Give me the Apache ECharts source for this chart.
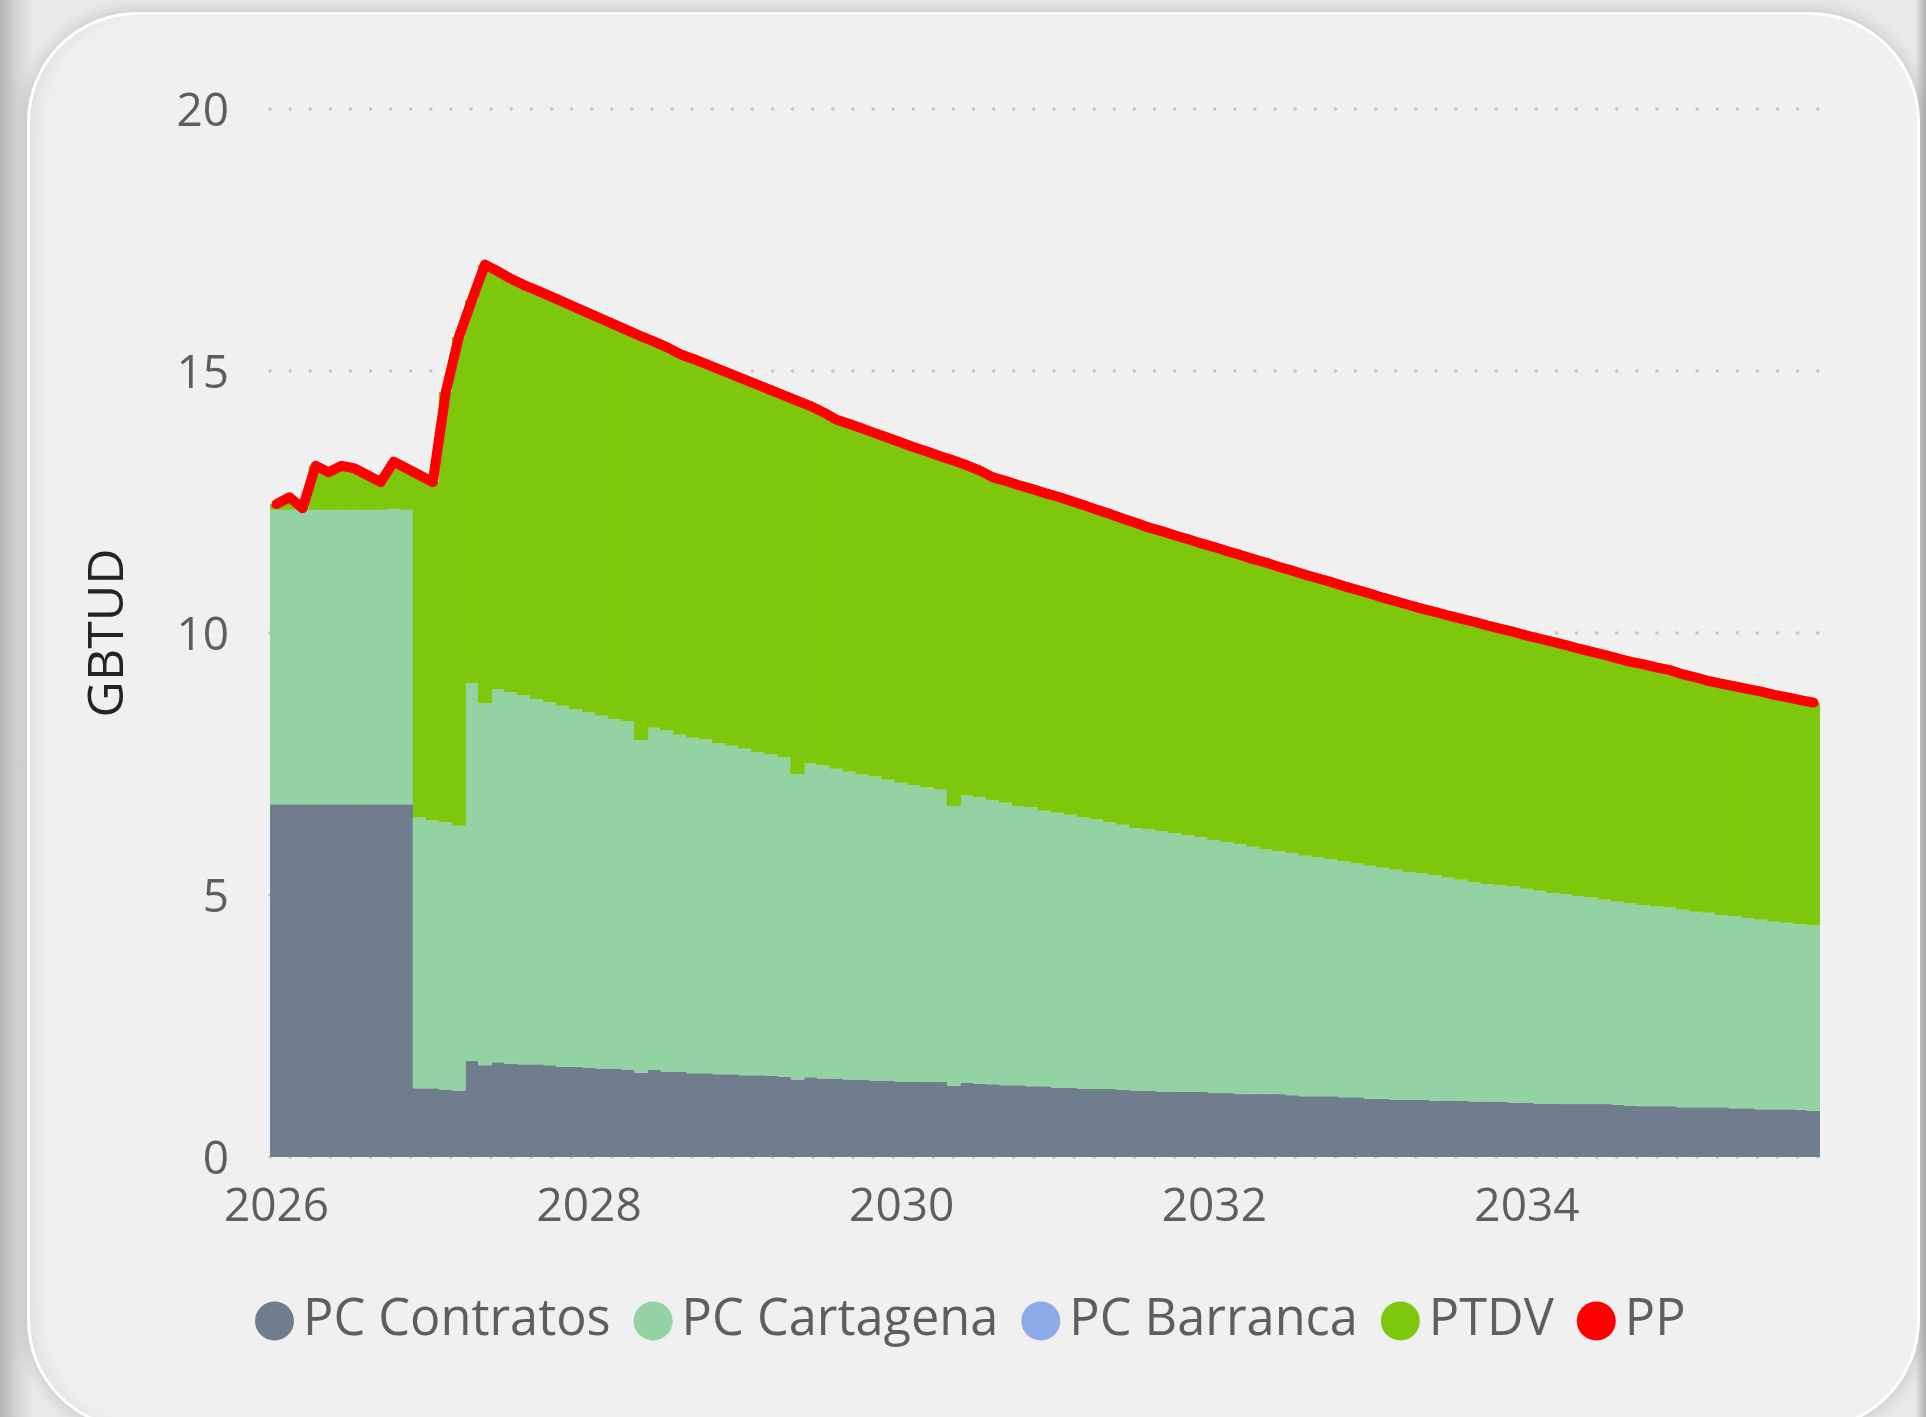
<!DOCTYPE html>
<html>
<head>
<meta charset="utf-8">
<script src="https://cdn.jsdelivr.net/npm/echarts@6/dist/echarts.min.js"></script>
<style>
    html, body { margin: 0; padding: 0; width: 1926px; height: 1417px; overflow: hidden; }
    body {
        background: linear-gradient(to right, #b4b4b4 0px, #d6d6d6 18px, #e9e9e9 34px, #e9e9e9 1915px, #b0b0b0 1926px);
        position: relative;
    }
    .card {
        position: absolute;
        left: 27px; top: 12px;
        width: 1887px; height: 1412px;
        border: 3px solid #ffffff;
        border-radius: 110px;
        background: #f0f0f0;
        box-shadow: 0 0 18px rgba(0,0,0,0.18), inset 16px 0 22px -14px rgba(0,0,0,0.10);
    }
    #container { position: absolute; left: 0; top: 0; width: 1926px; height: 1417px; }
</style>
</head>
<body>
<div class="card"></div>
<div id="container"></div>
<script type="text/javascript">
// months, Jan 2026 .. Nov 2035
var months = [
    '2026-01','2026-02','2026-03','2026-04','2026-05','2026-06','2026-07','2026-08','2026-09','2026-10','2026-11','2026-12',
    '2027-01','2027-02','2027-03','2027-04','2027-05','2027-06','2027-07','2027-08','2027-09','2027-10','2027-11','2027-12',
    '2028-01','2028-02','2028-03','2028-04','2028-05','2028-06','2028-07','2028-08','2028-09','2028-10','2028-11','2028-12',
    '2029-01','2029-02','2029-03','2029-04','2029-05','2029-06','2029-07','2029-08','2029-09','2029-10','2029-11','2029-12',
    '2030-01','2030-02','2030-03','2030-04','2030-05','2030-06','2030-07','2030-08','2030-09','2030-10','2030-11','2030-12',
    '2031-01','2031-02','2031-03','2031-04','2031-05','2031-06','2031-07','2031-08','2031-09','2031-10','2031-11','2031-12',
    '2032-01','2032-02','2032-03','2032-04','2032-05','2032-06','2032-07','2032-08','2032-09','2032-10','2032-11','2032-12',
    '2033-01','2033-02','2033-03','2033-04','2033-05','2033-06','2033-07','2033-08','2033-09','2033-10','2033-11','2033-12',
    '2034-01','2034-02','2034-03','2034-04','2034-05','2034-06','2034-07','2034-08','2034-09','2034-10','2034-11','2034-12',
    '2035-01','2035-02','2035-03','2035-04','2035-05','2035-06','2035-07','2035-08','2035-09','2035-10','2035-11'
];

var pcContratos = [
    6.73,6.73,6.73,6.73,6.73,6.73,6.73,6.73,6.73,6.73,6.73,1.31,
    1.31,1.29,1.27,1.83,1.75,1.81,1.78,1.77,1.77,1.75,1.72,1.72,
    1.71,1.69,1.69,1.67,1.61,1.66,1.63,1.63,1.60,1.60,1.58,1.58,
    1.56,1.56,1.55,1.53,1.48,1.52,1.50,1.50,1.48,1.48,1.46,1.46,
    1.44,1.44,1.43,1.43,1.36,1.41,1.40,1.39,1.37,1.37,1.35,1.35,
    1.32,1.32,1.30,1.30,1.30,1.28,1.27,1.27,1.25,1.25,1.24,1.24,
    1.22,1.22,1.20,1.20,1.20,1.20,1.18,1.16,1.16,1.16,1.14,1.14,
    1.11,1.11,1.09,1.09,1.09,1.07,1.07,1.07,1.06,1.06,1.05,1.04,
    1.04,1.02,1.02,1.01,1.01,1.01,1.01,1.00,0.98,0.97,0.97,0.97,
    0.95,0.95,0.95,0.95,0.93,0.93,0.91,0.91,0.91,0.90,0.88
];

var pcCartagena = [
    5.62,5.62,5.62,5.62,5.62,5.62,5.62,5.62,5.62,5.64,5.62,5.17,
    5.11,5.10,5.05,7.21,6.91,7.12,7.09,7.04,6.97,6.93,6.89,6.82,
    6.78,6.73,6.67,6.64,6.35,6.53,6.51,6.43,6.40,6.37,6.31,6.27,
    6.23,6.17,6.13,6.10,5.82,5.99,5.97,5.91,5.87,5.82,5.80,5.74,
    5.70,5.66,5.62,5.58,5.34,5.49,5.47,5.42,5.39,5.33,5.32,5.26,
    5.25,5.21,5.18,5.14,5.09,5.06,5.01,4.98,4.97,4.93,4.90,4.86,
    4.83,4.79,4.77,4.72,4.67,4.63,4.62,4.59,4.56,4.52,4.50,4.46,
    4.45,4.41,4.39,4.35,4.32,4.30,4.26,4.22,4.19,4.15,4.13,4.12,
    4.08,4.06,4.02,4.01,3.97,3.94,3.90,3.87,3.86,3.84,3.81,3.79,
    3.77,3.73,3.71,3.67,3.67,3.63,3.62,3.58,3.56,3.54,3.54
];

var pcBarranca = [
    0,0,0,0,0,0,0,0,0,0,0,0,
    0,0,0,0,0,0,0,0,0,0,0,0,
    0,0,0,0,0,0,0,0,0,0,0,0,
    0,0,0,0,0,0,0,0,0,0,0,0,
    0,0,0,0,0,0,0,0,0,0,0,0,
    0,0,0,0,0,0,0,0,0,0,0,0,
    0,0,0,0,0,0,0,0,0,0,0,0,
    0,0,0,0,0,0,0,0,0,0,0,0,
    0,0,0,0,0,0,0,0,0,0,0,0,
    0,0,0,0,0,0,0,0,0,0,0
];

var ptdv = [
    0.11,0.24,0.03,0.84,0.72,0.84,0.79,0.66,0.53,0.90,0.79,6.53,
    6.46,8.21,9.33,7.31,8.37,7.97,7.89,7.83,7.80,7.75,7.71,7.67,
    7.61,7.57,7.52,7.46,7.70,7.37,7.31,7.26,7.23,7.16,7.14,7.08,
    7.04,7.00,6.95,6.90,7.13,6.82,6.74,6.66,6.64,6.60,6.55,6.52,
    6.49,6.44,6.41,6.36,6.59,6.30,6.23,6.16,6.14,6.12,6.08,6.06,
    6.03,5.99,5.96,5.91,5.88,5.84,5.82,5.76,5.72,5.68,5.65,5.61,
    5.59,5.55,5.52,5.49,5.47,5.43,5.39,5.36,5.32,5.29,5.25,5.22,
    5.19,5.15,5.12,5.09,5.05,5.03,5.00,4.98,4.96,4.93,4.90,4.86,
    4.83,4.81,4.79,4.75,4.72,4.69,4.67,4.64,4.61,4.59,4.56,4.53,
    4.49,4.47,4.42,4.41,4.38,4.37,4.35,4.33,4.30,4.28,4.25
];

var pp = [
    12.46,12.59,12.38,13.19,13.07,13.19,13.14,13.01,12.88,13.27,13.14,13.01,
    12.88,14.60,15.65,16.35,17.03,16.90,16.76,16.64,16.54,16.43,16.32,16.21,
    16.10,15.99,15.88,15.77,15.66,15.56,15.45,15.32,15.23,15.13,15.03,14.93,
    14.83,14.73,14.63,14.53,14.43,14.33,14.21,14.07,13.99,13.90,13.81,13.72,
    13.63,13.54,13.46,13.37,13.29,13.20,13.10,12.97,12.90,12.82,12.75,12.67,
    12.60,12.52,12.44,12.35,12.27,12.18,12.10,12.01,11.94,11.86,11.79,11.71,
    11.64,11.56,11.49,11.41,11.34,11.26,11.19,11.11,11.04,10.97,10.89,10.82,
    10.75,10.67,10.60,10.53,10.46,10.40,10.33,10.27,10.21,10.14,10.08,10.02,
    9.95,9.89,9.83,9.77,9.70,9.64,9.58,9.51,9.45,9.40,9.34,9.29,
    9.21,9.15,9.08,9.03,8.98,8.93,8.88,8.82,8.77,8.72,8.67
];

var yTicks = { min: 0, max: 20, step: 5 };
var labelYears = ['2026', '2028', '2030', '2032', '2034'];

var fontName = "'Open Sans', 'Noto Sans', sans-serif";

var dom = document.getElementById('container');
var myChart = echarts.init(dom, null, { renderer: 'canvas' });

var barSeries = function (name, data, color) {
    return {
        name: name,
        type: 'bar',
        stack: 'total',
        barWidth: 14,   // a little wider than the band so neighbouring bars overlap, no seams
        itemStyle: { color: color },
        emphasis: { disabled: true },
        data: data
    };
};

option = {
    backgroundColor: 'transparent',
    animation: false,
    textStyle: { fontFamily: fontName },
    grid: { left: 270, right: 106, top: 109, bottom: 260, containLabel: false },
    legend: {
        data: ['PC Contratos', 'PC Cartagena', 'PC Barranca', 'PTDV', 'PP'],
        icon: 'circle',
        itemWidth: 39,
        itemHeight: 39,
        itemGap: 23,
        left: 250,
        top: 1290,
        textStyle: { fontSize: 50.5, color: '#605e5c', fontFamily: fontName, lineHeight: 52, padding: [0, 0, 0, 4] }
    },
    xAxis: {
        type: 'category',
        data: months,
        axisLine: { show: false },
        axisTick: { show: false },
        splitLine: { show: false },
        axisLabel: {
            fontSize: 46,
            color: '#605e5c',
            margin: 28,
            interval: function (idx, val) {
                return val.slice(5) === '01' && labelYears.indexOf(val.slice(0, 4)) >= 0;
            },
            formatter: function (val) { return val.slice(0, 4); }
        }
    },
    yAxis: {
        type: 'value',
        min: yTicks.min,
        max: yTicks.max,
        interval: yTicks.step,
        name: 'GBTUD',
        nameLocation: 'middle',
        nameRotate: 90,
        nameGap: 136,
        nameTextStyle: { fontSize: 50, color: '#252423', fontFamily: fontName },
        axisLine: { show: false },
        axisTick: { show: false },
        axisLabel: {
            margin: 41,
            formatter: '{v|{value}}',
            rich: { v: { fontSize: 46, color: '#605e5c', fontFamily: fontName, padding: [8, 0, 0, 0] } }
        },
        splitLine: {
            show: true,
            lineStyle: { color: '#c6c6c6', width: 3.5, type: [0.1, 20], cap: 'round' }
        }
    },
    series: [
        barSeries('PC Contratos', pcContratos, '#6f7d8c'),
        barSeries('PC Cartagena', pcCartagena, '#93d2a2'),
        barSeries('PC Barranca', pcBarranca, '#8faae8'),
        barSeries('PTDV', ptdv, '#7dc80c'),
        {
            name: 'PP',
            type: 'line',
            data: pp,
            symbol: 'none',
            z: 5,
            itemStyle: { color: '#ff0000' },
            lineStyle: { color: '#ff0000', width: 10, cap: 'round', join: 'round' },
            emphasis: { disabled: true }
        }
    ]
};

if (option && typeof option === 'object') {
    myChart.setOption(option);
}
</script>
</body>
</html>
